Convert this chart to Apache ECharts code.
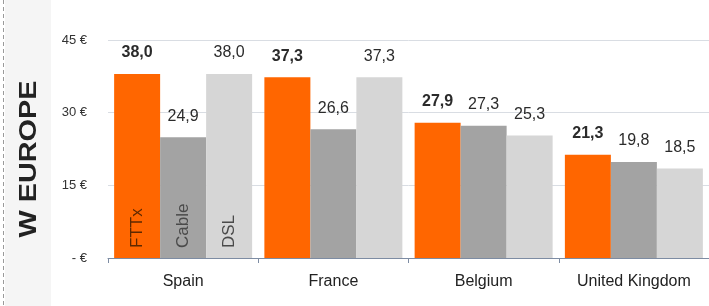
<!DOCTYPE html>
<html>
<head>
    <meta charset="utf-8">
    <title>W Europe</title>
    <script type="text/javascript" src="https://cdn.jsdelivr.net/npm/echarts@6/dist/echarts.min.js"></script>
    <style type="text/css">
        html, body { margin: 0; padding: 0; background: #fff; }
        #main { width: 709px; height: 306px; }
    </style>
</head>
<body>
    <div id="main"></div>
    <script type="text/javascript">
        // data
        var categories = ['Spain', 'France', 'Belgium', 'United Kingdom'];
        var seriesNames = ['FTTx', 'Cable', 'DSL'];
        var fttx  = [38.0, 37.3, 27.9, 21.3];
        var cable = [24.9, 26.6, 27.3, 19.8];
        var dsl   = [38.0, 37.3, 25.3, 18.5];
        var yTicks = [0, 15, 30, 45];

        var values = [fttx, cable, dsl];
        var colors = ['#ff6600', '#a3a3a3', '#d6d6d6'];
        var innerColors = ['#5e2800', '#4a4a4a', '#4a4a4a'];
        var font = 'Liberation Sans, Arial, sans-serif';

        function fmt(v) {
            return v.toFixed(1).replace('.', ',');
        }

        var chart = echarts.init(document.getElementById('main'));

        var series = [];
        // visible bars with value on top
        values.forEach(function (arr, i) {
            series.push({
                name: seriesNames[i],
                type: 'bar',
                xAxisIndex: 0,
                barWidth: 46,
                barGap: '0%',
                data: arr,
                itemStyle: { color: colors[i] },
                label: {
                    show: true,
                    position: 'top',
                    distance: 13,
                    fontFamily: font,
                    fontSize: 16,
                    fontWeight: i === 0 ? 'bold' : 'normal',
                    color: '#2b2b2b',
                    formatter: function (p) { return fmt(p.value); }
                }
            });
        });
        // transparent copies on a hidden axis, only for the rotated names in the first group
        values.forEach(function (arr, i) {
            series.push({
                name: seriesNames[i] + ' label',
                type: 'bar',
                xAxisIndex: 1,
                barWidth: 46,
                barGap: '0%',
                silent: true,
                data: arr,
                itemStyle: { color: 'rgba(0,0,0,0)' },
                label: {
                    show: true,
                    position: 'insideBottom',
                    rotate: 90,
                    align: 'left',
                    verticalAlign: 'middle',
                    distance: 10,
                    fontFamily: font,
                    fontSize: 17,
                    color: innerColors[i],
                    formatter: function (p) { return p.dataIndex === 0 ? seriesNames[i] : ''; }
                }
            });
        });

        var option = {
            backgroundColor: '#ffffff',
            animation: false,
            graphic: [
                {
                    type: 'rect',
                    z: -10,
                    shape: { x: 5, y: 0, width: 46, height: 306 },
                    style: { fill: '#f5f5f5' }
                },
                {
                    type: 'line',
                    shape: { x1: 3.5, y1: 0, x2: 3.5, y2: 306 },
                    style: { stroke: '#9a9a9a', lineWidth: 1, lineDash: [4, 3] }
                },
                {
                    type: 'text',
                    x: 29,
                    y: 159,
                    rotation: Math.PI / 2,
                    scaleX: 1.2,
                    style: {
                        text: 'W EUROPE',
                        fontFamily: font,
                        fontSize: 24,
                        fontWeight: 'bold',
                        fill: '#222',
                        align: 'center',
                        verticalAlign: 'middle'
                    }
                }
            ],
            grid: {
                left: 108,
                top: 40,
                width: 608,
                height: 218
            },
            xAxis: [
                {
                    type: 'category',
                    data: categories,
                    axisLine: { lineStyle: { color: '#7d8ca3', width: 1 } },
                    axisTick: { show: true, length: 5, lineStyle: { color: '#7d8ca3' } },
                    axisLabel: {
                        margin: 16,
                        fontFamily: font,
                        fontSize: 16,
                        color: '#222'
                    }
                },
                {
                    type: 'category',
                    data: categories,
                    show: false
                }
            ],
            yAxis: {
                type: 'value',
                min: yTicks[0],
                max: yTicks[yTicks.length - 1],
                interval: 15,
                axisLine: { show: false },
                axisTick: { show: false },
                splitLine: { lineStyle: { color: '#d9dde3', width: 1 } },
                axisLabel: {
                    margin: 21,
                    fontFamily: font,
                    fontSize: 13,
                    color: '#333',
                    formatter: function (v) { return v === 0 ? '- \u20ac' : v + ' \u20ac'; }
                }
            },
            series: series
        };

        chart.setOption(option);
    </script>
</body>
</html>
